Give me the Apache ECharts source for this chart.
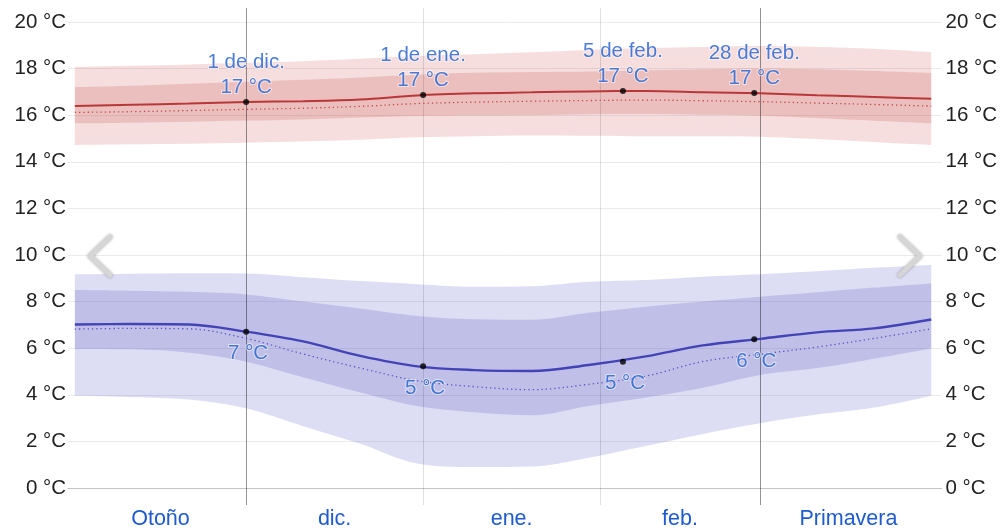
<!DOCTYPE html>
<html>
<head>
<meta charset="utf-8">
<script src="https://cdn.jsdelivr.net/npm/echarts@6/dist/echarts.min.js"></script>
<style>
  html, body { margin: 0; padding: 0; background: #fff; }
  #chart { width: 1000px; height: 531px; }
</style>
</head>
<body>
<div id="chart"></div>
<script>
// Days counted from 1 December (negative = November, 31 = 1 January, 62 = 1 February, 90 = 1 March)
const days = [-30, -20, -10, 0, 10, 20, 30, 40, 50, 60, 70, 80, 90, 100, 110, 120];

// Daily high temperature (°C)
const highMean  = [16.40, 16.45, 16.50, 16.57, 16.60, 16.67, 16.85, 16.94, 16.98, 17.02, 17.04, 16.99, 16.94, 16.86, 16.78, 16.71];
const highFeels = [16.12, 16.15, 16.20, 16.25, 16.30, 16.38, 16.50, 16.56, 16.60, 16.63, 16.65, 16.62, 16.58, 16.52, 16.46, 16.39];
const highP75   = [17.20, 17.26, 17.35, 17.44, 17.52, 17.62, 17.74, 17.82, 17.85, 17.88, 17.92, 17.97, 18.00, 17.97, 17.90, 17.82];
const highP25   = [15.65, 15.68, 15.72, 15.77, 15.82, 15.90, 15.97, 15.99, 16.00, 16.04, 16.05, 16.02, 15.98, 15.88, 15.76, 15.65];
const highP90   = [18.07, 18.12, 18.18, 18.25, 18.32, 18.42, 18.54, 18.62, 18.70, 18.80, 18.88, 18.93, 18.97, 18.93, 18.85, 18.70];
const highP10   = [14.72, 14.75, 14.78, 14.82, 14.88, 14.95, 15.05, 15.10, 15.13, 15.12, 15.10, 15.10, 15.08, 14.98, 14.85, 14.72];

// Daily low temperature (°C)
const lowMean  = [7.02, 7.04, 7.02, 6.71, 6.29, 5.67, 5.22, 5.06, 5.02, 5.28, 5.65, 6.12, 6.40, 6.68, 6.85, 7.23];
const lowFeels = [6.82, 6.85, 6.83, 6.42, 5.75, 5.15, 4.60, 4.35, 4.22, 4.45, 4.80, 5.43, 5.74, 6.05, 6.42, 6.83];
const lowP75   = [8.50, 8.47, 8.42, 8.31, 8.00, 7.70, 7.38, 7.24, 7.22, 7.52, 7.78, 8.00, 8.21, 8.40, 8.60, 8.78];
const lowP25   = [5.97, 5.95, 5.80, 5.42, 4.75, 4.10, 3.52, 3.25, 3.12, 3.52, 3.88, 4.30, 4.85, 5.15, 5.55, 6.00];
const lowP90   = [9.17, 9.20, 9.22, 9.21, 9.05, 8.88, 8.75, 8.64, 8.66, 8.85, 8.93, 9.07, 9.17, 9.30, 9.45, 9.57];
const lowP10   = [3.96, 3.90, 3.80, 3.42, 2.65, 1.90, 1.05, 0.90, 0.92, 1.30, 1.80, 2.32, 2.78, 3.15, 3.45, 3.96];

// Highlighted days
const markNames  = ['1 de dic.', '1 de ene.', '5 de feb.', '28 de feb.'];
const markDays   = [0, 31, 66, 89];
const markHigh   = [16.57, 16.87, 17.04, 16.95];
const markLow    = [6.71, 5.22, 5.42, 6.38];

// Period labels along the bottom and the boundaries between periods
const periodNames = ['Otoño', 'dic.', 'ene.', 'feb.', 'Primavera'];
const periodMid   = [-15, 15.5, 46.5, 76, 105.5];
const seasonEdges = [0, 90];
const monthEdges  = [31, 62];

// Temperature ticks
const tempTicks = [0, 2, 4, 6, 8, 10, 12, 14, 16, 18, 20];

const FONT = 'Arial, "Liberation Sans", sans-serif';
const LABEL_BLUE = '#1f5bcc';

// Rows are [temperature, day] so the stack runs on the temperature column
const rows  = vals => days.map((d, i) => [vals[i], d]);
const spans = (hi, lo) => days.map((d, i) => [+(hi[i] - lo[i]).toFixed(3), d]);
const pairs = vals => days.map((d, i) => [d, vals[i]]);

function band(id, lo, hi, color, z) {
  const common = { type: 'line', stack: id, smooth: 0.35, symbol: 'none', silent: true, z,
                   encode: { x: 1, y: 0 }, lineStyle: { opacity: 0 } };
  return [
    Object.assign({}, common, { data: rows(lo) }),
    Object.assign({}, common, { data: spans(hi, lo), areaStyle: { color, opacity: 1 } })
  ];
}

const edges = seasonEdges.map(d => [d, 1]).concat(monthEdges.map(d => [d, 0]));

const markLabel = {
  show: true, color: LABEL_BLUE, fontSize: 20.5, lineHeight: 25, fontFamily: FONT,
  textBorderColor: 'rgba(255,255,255,0.65)', textBorderWidth: 2
};

const chart = echarts.init(document.getElementById('chart'), null, { renderer: 'canvas' });

chart.setOption({
  animation: false,
  textStyle: { fontFamily: FONT },
  grid: { left: 68, right: 58, top: 22, bottom: 43 },
  xAxis: {
    type: 'value', min: -31.2, max: 121.8,
    axisLine: { show: true, lineStyle: { color: '#c4c4c4', width: 1 } },
    axisTick: { show: false },
    splitLine: { show: false },
    axisLabel: {
      customValues: periodMid,
      formatter: v => periodNames[periodMid.indexOf(v)] || '',
      color: LABEL_BLUE, fontSize: 21.5, margin: 20, fontFamily: FONT
    }
  },
  yAxis: [
    {
      type: 'value', position: 'left',
      min: tempTicks[0], max: tempTicks[tempTicks.length - 1], interval: 2,
      axisLine: { show: false }, axisTick: { show: false },
      splitLine: { lineStyle: { color: '#ebebeb', width: 1 } },
      axisLabel: { formatter: v => v + ' °C', color: '#222', fontSize: 20.5, margin: 2, fontFamily: FONT }
    },
    {
      type: 'value', position: 'right',
      min: tempTicks[0], max: tempTicks[tempTicks.length - 1], interval: 2,
      axisLine: { show: false }, axisTick: { show: false },
      splitLine: { show: false },
      axisLabel: { formatter: v => v + ' °C', color: '#222', fontSize: 20.5, margin: 4, fontFamily: FONT }
    }
  ],
  series: [
    ...band('hi90', highP10, highP90, 'rgba(205,80,80,0.19)', 1),
    ...band('hi75', highP25, highP75, 'rgba(200,75,75,0.21)', 2),
    ...band('lo90', lowP10, lowP90, 'rgba(85,85,200,0.2)', 1),
    ...band('lo75', lowP25, lowP75, 'rgba(80,80,190,0.21)', 2),
    {
      type: 'custom', data: edges, clip: false, silent: true, z: 3,
      renderItem: (params, api) => {
        const top = api.coord([api.value(0), 20.6]);
        const bot = api.coord([api.value(0), -0.73]);
        const x = Math.round(top[0]) + 0.5;
        return {
          type: 'line',
          shape: { x1: x, y1: top[1], x2: x, y2: bot[1] },
          style: { stroke: api.value(1) ? 'rgba(0,0,0,0.42)' : 'rgba(0,0,0,0.12)', lineWidth: 1 }
        };
      }
    },
    { type: 'line', data: pairs(highFeels), smooth: 0.35, symbol: 'none', silent: true, z: 4,
      lineStyle: { color: '#c24848', width: 1.3, type: [1.3, 3] } },
    { type: 'line', data: pairs(highMean), smooth: 0.35, symbol: 'none', silent: true, z: 4,
      lineStyle: { color: '#b83838', width: 2 } },
    { type: 'line', data: pairs(lowFeels), smooth: 0.35, symbol: 'none', silent: true, z: 4,
      lineStyle: { color: '#5555c4', width: 1.3, type: [1.3, 3] } },
    { type: 'line', data: pairs(lowMean), smooth: 0.35, symbol: 'none', silent: true, z: 4,
      lineStyle: { color: '#4343b6', width: 2.4 } },
    {
      type: 'scatter', z: 6, silent: true,
      data: markDays.map((d, i) => [d, markHigh[i]]),
      symbolSize: 6, itemStyle: { color: '#000' },
      label: Object.assign({}, markLabel, {
        position: 'top', distance: -1,
        formatter: p => markNames[p.dataIndex] + '\n' + Math.round(p.value[1]) + ' °C'
      })
    },
    {
      type: 'scatter', z: 6, silent: true,
      data: markDays.map((d, i) => [d, markLow[i]]),
      symbolSize: 6, itemStyle: { color: '#000' },
      label: Object.assign({}, markLabel, {
        position: 'bottom', distance: 6, offset: [2, 0],
        formatter: p => Math.round(p.value[1]) + ' °C'
      })
    }
  ],
  graphic: [
    { type: 'polyline', z: 20, silent: true,
      shape: { points: [[110, 237], [90, 256], [110, 275]] },
      style: { stroke: '#d6d6d6', lineWidth: 5, lineCap: 'round', lineJoin: 'round', fill: null,
               shadowBlur: 3, shadowColor: 'rgba(0,0,0,0.35)' } },
    { type: 'polyline', z: 20, silent: true,
      shape: { points: [[900, 237], [920, 256], [900, 275]] },
      style: { stroke: '#d6d6d6', lineWidth: 5, lineCap: 'round', lineJoin: 'round', fill: null,
               shadowBlur: 3, shadowColor: 'rgba(0,0,0,0.35)' } }
  ]
});
</script>
</body>
</html>
